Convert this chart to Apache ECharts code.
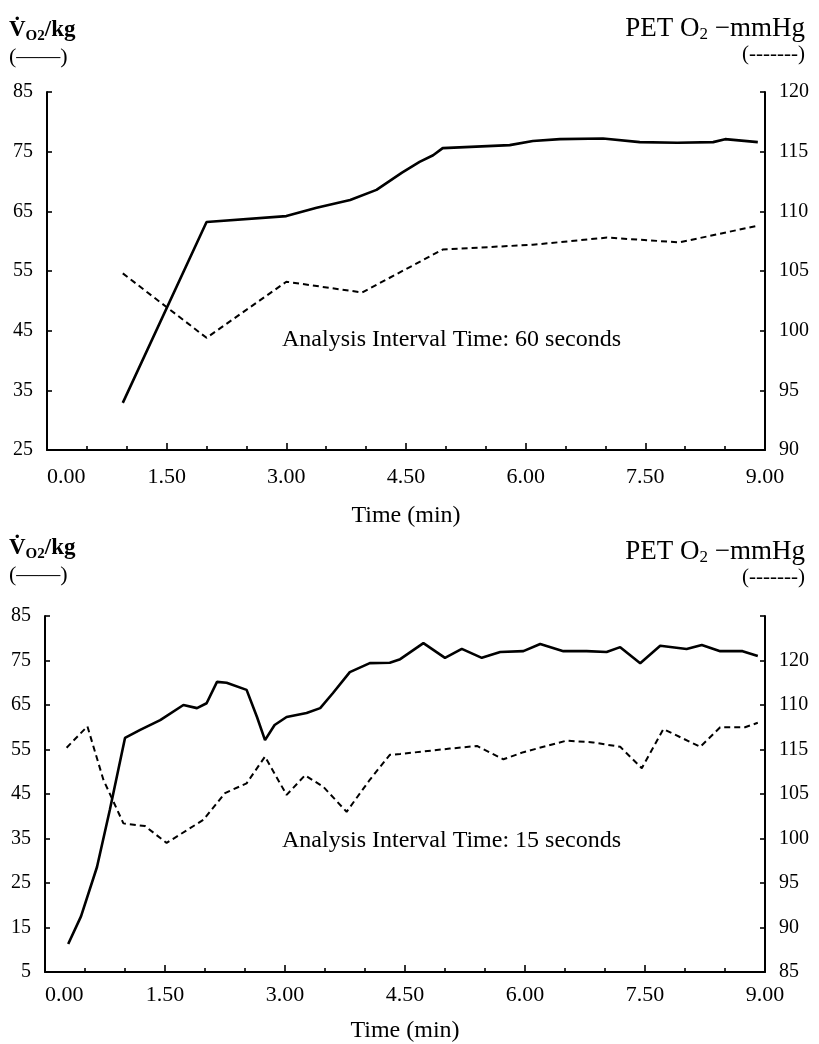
<!DOCTYPE html>
<html>
<head>
<meta charset="utf-8">
<script src="https://cdn.jsdelivr.net/npm/echarts@6/dist/echarts.min.js"></script>
<style>
html,body{margin:0;padding:0;background:#fff;}
#chart{width:819px;height:1044px;}
</style>
</head>
<body>
<div id="chart"></div>
<script>
// ---------- data ----------
// Top panel: 60 s analysis interval
const topVO2Time = [0.95, 2.0, 3.0, 3.38, 3.8, 4.13, 4.45, 4.67, 4.84, 4.96, 5.8, 6.09, 6.43, 6.97, 7.43, 7.9, 8.35, 8.5, 8.91];
const topVO2     = [32.9, 63.2, 64.2, 65.6, 66.9, 68.6, 71.5, 73.3, 74.4, 75.6, 76.1, 76.8, 77.1, 77.2, 76.6, 76.5, 76.6, 77.1, 76.6];
const topPETTime = [0.95, 2.0, 3.0, 3.95, 4.96, 6.09, 7.02, 7.93, 8.91];
const topPET     = [104.8, 99.4, 104.1, 103.2, 106.8, 107.2, 107.8, 107.4, 108.8];

// Bottom panel: 15 s analysis interval
const botVO2Time = [0.29, 0.45, 0.65, 0.81, 1.0, 1.19, 1.44, 1.73, 1.9, 2.02, 2.15, 2.27, 2.52, 2.65, 2.75, 2.87, 3.02, 3.27, 3.44, 3.6, 3.81, 4.06, 4.31, 4.44, 4.73, 5.0, 5.21, 5.46, 5.69, 5.98, 6.19, 6.48, 6.77, 7.02, 7.19, 7.44, 7.69, 8.02, 8.21, 8.44, 8.72, 8.91];
const botVO2     = [11.3, 17.5, 28.6, 41.4, 57.6, 59.4, 61.6, 65.0, 64.3, 65.4, 70.2, 70.0, 68.4, 62.3, 57.1, 60.5, 62.3, 63.2, 64.3, 67.7, 72.4, 74.4, 74.5, 75.3, 78.9, 75.6, 77.6, 75.6, 76.9, 77.1, 78.7, 77.1, 77.1, 76.9, 78.0, 74.4, 78.3, 77.6, 78.5, 77.1, 77.1, 76.0];
const botPETTime = [0.27, 0.53, 0.73, 0.98, 1.25, 1.52, 1.98, 2.25, 2.52, 2.75, 3.02, 3.25, 3.48, 3.77, 4.06, 4.31, 4.44, 5.06, 5.4, 5.73, 5.98, 6.52, 6.85, 7.19, 7.46, 7.73, 8.19, 8.44, 8.75, 8.91];
const botPET     = [110.2, 112.6, 106.6, 101.7, 101.4, 99.5, 102.1, 105.1, 106.2, 109.2, 104.9, 107.1, 105.8, 103.0, 106.6, 109.4, 109.5, 110.1, 110.4, 108.9, 109.7, 111.0, 110.8, 110.3, 107.9, 112.3, 110.3, 112.5, 112.5, 113.0];

// Tick labels (bottom right axis is printed as in the original figure)
const botRightTickValues = [85, 90, 95, 100, 105, 110, 115, 120, 125];
const botRightTickTexts  = ['85', '90', '95', '100', '105', '115', '110', '120', ''];

const topNote = 'Analysis Interval Time: 60 seconds';
const botNote = 'Analysis Interval Time: 15 seconds';
const xName = 'Time (min)';

// ---------- chart ----------
const FF = '"Liberation Serif", "DejaVu Serif", serif';
const pair = (xs, ys) => xs.map((x, i) => [x, ys[i]]);

function xAxisCfg(grid, margin, gap) {
  return {
    gridIndex: grid, type: 'value', min: 0, max: 9, interval: 1.5,
    axisLine: {lineStyle: {color: '#000', width: 2}},
    axisTick: {inside: true, length: 7, lineStyle: {color: '#000', width: 1.6}},
    minorTick: {show: true, splitNumber: 3, length: 4, lineStyle: {color: '#000', width: 1.6}},
    splitLine: {show: false},
    axisLabel: {formatter: v => v.toFixed(2), fontFamily: FF, fontSize: 22, color: '#000', margin: margin, alignMinLabel: 'left'},
    name: xName, nameLocation: 'middle', nameGap: gap,
    nameTextStyle: {fontFamily: FF, fontSize: 24, color: '#000'}
  };
}
function yAxisCfg(grid, pos, min, max, interval, fmt) {
  return {
    gridIndex: grid, type: 'value', position: pos, min: min, max: max, interval: interval,
    axisLine: {show: true, lineStyle: {color: '#000', width: 2}},
    axisTick: {show: true, inside: true, length: 5, lineStyle: {color: '#000', width: 1.6}},
    splitLine: {show: false},
    axisLabel: {fontFamily: FF, fontSize: 20, color: '#000', margin: 14, formatter: fmt}
  };
}
const solid = {color: '#000', width: 2.6};
const dashed = {color: '#000', width: 2, type: [6, 4]};

const headerV = (top) => ({
  type: 'text', left: 9, top: top,
  style: {
    text: '{v|V\u0307}{s|O2}{v|/kg}\n{p|(\u2014\u2014)}',
    rich: {
      v: {fontFamily: FF, fontSize: 23, fontWeight: 'bold', fill: '#000', lineHeight: 27},
      s: {fontFamily: FF, fontSize: 15, fontWeight: 'bold', fill: '#000', verticalAlign: 'bottom', lineHeight: 13},
      p: {fontFamily: FF, fontSize: 22, fill: '#000', lineHeight: 27}
    }
  }
});
const headerP = (top) => ({
  type: 'text', right: 14, top: top,
  style: {
    text: '{a|PET O}{s|2}{a| \u2212mmHg}',
    rich: {
      a: {fontFamily: FF, fontSize: 27, fill: '#000', lineHeight: 30},
      s: {fontFamily: FF, fontSize: 17, fill: '#000', verticalAlign: 'bottom', lineHeight: 18}
    }
  }
});
const headerPLegend = (top) => ({
  type: 'text', right: 14, top: top,
  style: {text: '(-------)', fontFamily: FF, fontSize: 21, fill: '#000'}
});
const note = (txt, top) => ({
  type: 'text', left: 282, top: top,
  style: {text: txt, fontFamily: FF, fontSize: 24, fill: '#000'}
});

const option = {
  animation: false,
  backgroundColor: '#fff',
  grid: [
    {left: 47, right: 54, top: 92, height: 358},
    {left: 45, right: 54, top: 616, height: 356}
  ],
  xAxis: [xAxisCfg(0, 16, 54), xAxisCfg(1, 12, 47)],
  yAxis: [
    yAxisCfg(0, 'left', 25, 85, 10),
    yAxisCfg(0, 'right', 90, 120, 5),
    yAxisCfg(1, 'left', 5, 85, 10),
    yAxisCfg(1, 'right', 85, 125, 5, v => {
      const i = botRightTickValues.indexOf(v);
      return i >= 0 ? botRightTickTexts[i] : '';
    })
  ],
  series: [
    {type: 'line', xAxisIndex: 0, yAxisIndex: 0, data: pair(topVO2Time, topVO2), showSymbol: false, lineStyle: solid},
    {type: 'line', xAxisIndex: 0, yAxisIndex: 1, data: pair(topPETTime, topPET), showSymbol: false, lineStyle: dashed},
    {type: 'line', xAxisIndex: 1, yAxisIndex: 2, data: pair(botVO2Time, botVO2), showSymbol: false, lineStyle: solid},
    {type: 'line', xAxisIndex: 1, yAxisIndex: 3, data: pair(botPETTime, botPET), showSymbol: false, lineStyle: dashed}
  ],
  graphic: [
    headerV(19), headerP(15), headerPLegend(44),
    headerV(537), headerP(538), headerPLegend(567),
    note(topNote, 328), note(botNote, 829)
  ]
};

const chart = echarts.init(document.getElementById('chart'), null, {renderer: 'canvas'});
chart.setOption(option);
</script>
</body>
</html>
